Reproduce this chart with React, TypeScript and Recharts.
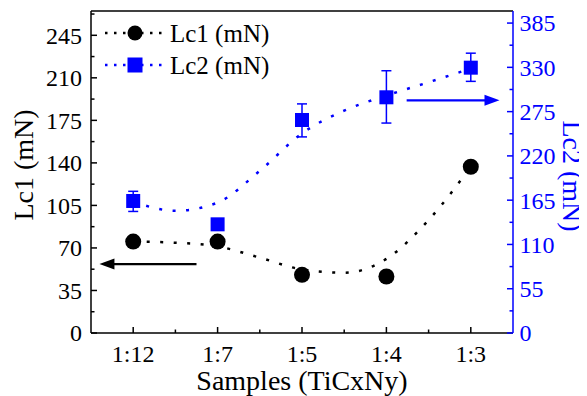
import React from 'react';
import { ComposedChart, Line, Scatter, XAxis, YAxis, ErrorBar, Legend, ReferenceLine } from 'recharts';

const categories = ['1:12', '1:7', '1:5', '1:4', '1:3'];
const lc1Values = [75.2, 75.2, 47.9, 46.5, 136.8];
const lc2Values = [164, 135, 264.6, 292.8, 329.6];
const lc2ErrLow = [13, 0, 21, 32, 17];
const lc2ErrHigh = [12, 0, 20, 33, 18];

const fitPositions = [0, 0.5, 1, 1.5, 2, 2.5, 3, 3.5, 4];
const lc1Fit = [75.2, 74.3, 71.3, 62, 52.3, 49.6, 61, 93, 136.8];
const lc2Fit = [163, 151.8, 162, 201.5, 248, 276.3, 295, 311.5, 328.5];

const leftMajorTicks = [0, 35, 70, 105, 140, 175, 210, 245];
const leftMinorTicks = [17.5, 52.5, 87.5, 122.5, 157.5, 192.5, 227.5, 262.5];
const rightMajorTicks = [0, 55, 110, 165, 220, 275, 330, 385];
const rightMinorTicks = [27.5, 82.5, 137.5, 192.5, 247.5, 302.5, 357.5];

const leftArrowX = [0.75, -0.4];
const leftArrowY = 56.7;
const rightArrowX = [3.24, 4.34];
const rightArrowY = 289;

const FONT = '"Liberation Serif", serif';
const BLUE = '#0000ff';
const txt = { fontFamily: FONT };

const lc1Points = categories.map((c, i) => ({ x: i, y: lc1Values[i] }));
const lc2Points = categories.map((c, i) => ({ x: i, y: lc2Values[i], err: [lc2ErrLow[i], lc2ErrHigh[i]] }));
const lc1FitData = fitPositions.map((p, i) => ({ x: p, y: lc1Fit[i] }));
const lc2FitData = fitPositions.map((p, i) => ({ x: p, y: lc2Fit[i] }));

const LeftTick = (props: any) => {
  const { x, y, payload } = props;
  const major = leftMajorTicks.includes(payload.value);
  return (
    <g>
      <line x1={x} x2={x + (major ? 6 : 3.5)} y1={y} y2={y} stroke="#000" strokeWidth={1.5} />
      {major && (
        <text x={x - 9} y={y} dy="0.35em" textAnchor="end" fontSize={24} fontFamily={FONT} style={txt} fill="#000">
          {payload.value}
        </text>
      )}
    </g>
  );
};

const RightTick = (props: any) => {
  const { x, y, payload } = props;
  const major = rightMajorTicks.includes(payload.value);
  return (
    <g>
      <line x1={x} x2={x - (major ? 6 : 3.5)} y1={y} y2={y} stroke={BLUE} strokeWidth={1.5} />
      {major && (
        <text x={x + 6.5} y={y} dy="0.35em" textAnchor="start" fontSize={24} fontFamily={FONT} style={txt} fill={BLUE}>
          {payload.value}
        </text>
      )}
    </g>
  );
};

const BottomTick = (props: any) => {
  const { x, y, payload } = props;
  const major = Number.isInteger(payload.value);
  return (
    <g>
      <line x1={x} x2={x} y1={y} y2={y - (major ? 6 : 3.5)} stroke="#000" strokeWidth={1.5} />
      {major && (
        <text x={x} y={y + 29} textAnchor="middle" fontSize={24} fontFamily={FONT} style={txt} fill="#000">
          {categories[payload.value]}
        </text>
      )}
    </g>
  );
};

const makeArrow = (color: string) => (p: any) => {
  const { x1, y1, x2, y2 } = p;
  const dx = x2 - x1;
  const dy = y2 - y1;
  const len = Math.sqrt(dx * dx + dy * dy) || 1;
  const ux = dx / len;
  const uy = dy / len;
  const head = 15;
  const half = 5.5;
  const bx = x2 - ux * head;
  const by = y2 - uy * head;
  return (
    <g>
      <line x1={x1} y1={y1} x2={bx + ux * 2} y2={by + uy * 2} stroke={color} strokeWidth={2.2} />
      <polygon
        points={`${x2},${y2} ${bx - uy * half},${by + ux * half} ${bx + uy * half},${by - ux * half}`}
        fill={color}
      />
    </g>
  );
};

const renderLegend = () => (
  <svg width={200} height={75} style={{ overflow: 'visible' }}>
    <line x1={7} x2={64} y1={20} y2={20} stroke="#000" strokeWidth={2.5} strokeDasharray="2.5 6.5" />
    <circle cx={37} cy={20} r={7.5} fill="#000" />
    <text x={72} y={20} dy="0.35em" fontSize={25} fontFamily={FONT} style={txt} fill="#000">Lc1 (mN)</text>
    <line x1={7} x2={64} y1={52} y2={52} stroke={BLUE} strokeWidth={2.5} strokeDasharray="2.5 6.5" />
    <rect x={29.5} y={44.5} width={15} height={15} fill={BLUE} />
    <text x={72} y={52} dy="0.35em" fontSize={25} fontFamily={FONT} style={txt} fill="#000">Lc2 (mN)</text>
  </svg>
);

const leftTitle = (props: any) => {
  const vb = props.viewBox;
  const cx = vb.x + 15;
  const cy = vb.y + vb.height / 2 - 7;
  return (
    <text x={cx} y={cy} transform={`rotate(-90 ${cx} ${cy})`} textAnchor="middle" dominantBaseline="central"
      fontSize={28} fontFamily={FONT} style={txt} fill="#000">Lc1 (mN)</text>
  );
};

const rightTitle = (props: any) => {
  const vb = props.viewBox;
  const cx = vb.x + 59;
  const cy = vb.y + vb.height / 2 + 4;
  return (
    <text x={cx} y={cy} transform={`rotate(90 ${cx} ${cy})`} textAnchor="middle" dominantBaseline="central"
      fontSize={28} fontFamily={FONT} style={txt} fill={BLUE}>Lc2 (mN)</text>
  );
};

const bottomTitle = (props: any) => {
  const vb = props.viewBox;
  return (
    <text x={vb.x + vb.width / 2} y={vb.y + 57} textAnchor="middle" fontSize={28} fontFamily={FONT} style={txt} fill="#000">
      Samples (TiCxNy)
    </text>
  );
};

export default function App() {
  return (
    <div style={{ width: 579, height: 388, background: '#fff', fontFamily: FONT }}>
      <ComposedChart width={579} height={388} margin={{ top: 3, right: 0, bottom: 0, left: 0 }} style={txt}>
        <XAxis
          dataKey="x"
          type="number"
          domain={[-0.5, 4.5]}
          ticks={[0, 0.5, 1, 1.5, 2, 2.5, 3, 3.5, 4]}
          interval={0}
          height={63}
          tickSize={0}
          tickMargin={0}
          tickLine={false}
          tick={<BottomTick />}
          axisLine={{ stroke: '#000', strokeWidth: 1.5 }}
          label={bottomTitle}
        />
        <YAxis
          yAxisId="left"
          orientation="left"
          type="number"
          domain={[0, 265]}
          ticks={[...leftMajorTicks, ...leftMinorTicks].sort((a, b) => a - b)}
          interval={0}
          width={83}
          tickSize={0}
          tickMargin={0}
          tickLine={false}
          tick={<LeftTick />}
          axisLine={{ stroke: '#000', strokeWidth: 1.5 }}
          label={leftTitle}
        />
        <YAxis
          yAxisId="right"
          orientation="right"
          type="number"
          domain={[0, 400]}
          ticks={[...rightMajorTicks, ...rightMinorTicks].sort((a, b) => a - b)}
          interval={0}
          width={74}
          tickSize={0}
          tickMargin={0}
          tickLine={false}
          tick={<RightTick />}
          axisLine={{ stroke: BLUE, strokeWidth: 1.5 }}
          label={rightTitle}
        />
        <ReferenceLine yAxisId="left" y={265} stroke="#000" strokeWidth={1.5} />
        <Line
          yAxisId="left"
          data={lc1FitData}
          dataKey="y"
          type="monotone"
          stroke="#000"
          strokeWidth={2.5}
          strokeDasharray="3 10.5"
          dot={false}
          activeDot={false}
          isAnimationActive={false}
          legendType="none"
        />
        <Line
          yAxisId="right"
          data={lc2FitData}
          dataKey="y"
          type="monotone"
          stroke={BLUE}
          strokeWidth={2.5}
          strokeDasharray="3 10.5"
          dot={false}
          activeDot={false}
          isAnimationActive={false}
          legendType="none"
        />
        <Scatter
          yAxisId="left"
          data={lc1Points}
          dataKey="y"
          name="Lc1 (mN)"
          isAnimationActive={false}
          shape={(p: any) => <circle cx={p.cx} cy={p.cy} r={8} fill="#000" />}
        />
        <Scatter
          yAxisId="right"
          data={lc2Points}
          dataKey="y"
          name="Lc2 (mN)"
          isAnimationActive={false}
          shape={(p: any) => <rect x={p.cx - 7} y={p.cy - 7} width={14} height={14} fill={BLUE} />}
        >
          <ErrorBar dataKey="err" direction="y" width={5} stroke={BLUE} strokeWidth={1.5} isAnimationActive={false} />
        </Scatter>
        <ReferenceLine
          yAxisId="left"
          segment={[{ x: leftArrowX[0], y: leftArrowY }, { x: leftArrowX[1], y: leftArrowY }]}
          shape={makeArrow('#000')}
        />
        <ReferenceLine
          yAxisId="right"
          segment={[{ x: rightArrowX[0], y: rightArrowY }, { x: rightArrowX[1], y: rightArrowY }]}
          shape={makeArrow(BLUE)}
        />
        <Legend
          content={renderLegend}
          layout="vertical"
          align="center"
          verticalAlign="middle"
          wrapperStyle={{ left: 90, top: 5, width: 200, height: 75 }}
        />
      </ComposedChart>
    </div>
  );
}
